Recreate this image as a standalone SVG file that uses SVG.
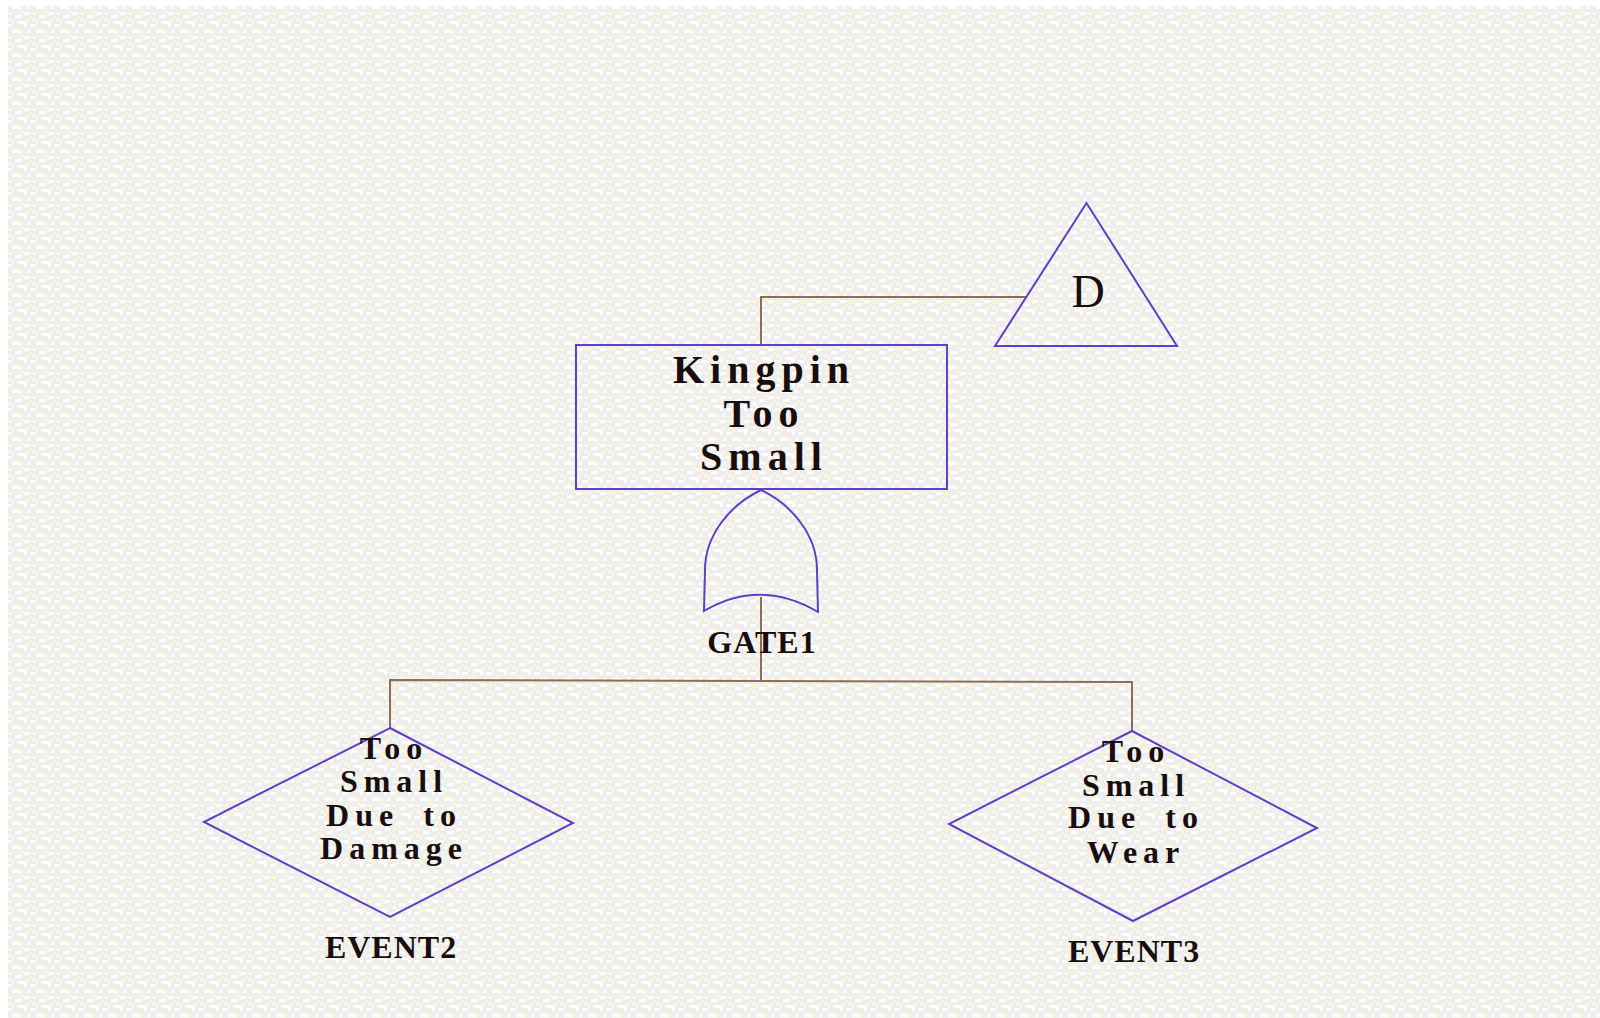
<svg xmlns="http://www.w3.org/2000/svg" width="1600" height="1018" viewBox="0 0 1600 1018">
<defs>
<pattern id="noise" width="24" height="24" patternUnits="userSpaceOnUse">
<rect width="24" height="24" fill="#eeeeee"/>
<rect x="0" y="0" width="3" height="3" fill="#ffffff"/>
<rect x="6" y="0" width="6" height="3" fill="#ffffff"/>
<rect x="15" y="3" width="3" height="3" fill="#fdf9c9"/>
<rect x="3" y="6" width="3" height="3" fill="#ffffff"/>
<rect x="12" y="6" width="9" height="3" fill="#ffffff"/>
<rect x="21" y="9" width="3" height="3" fill="#fdf9c9"/>
<rect x="0" y="12" width="6" height="3" fill="#ffffff"/>
<rect x="9" y="12" width="3" height="3" fill="#fdf9c9"/>
<rect x="15" y="15" width="6" height="3" fill="#ffffff"/>
<rect x="3" y="18" width="3" height="3" fill="#fdf9c9"/>
<rect x="9" y="18" width="3" height="3" fill="#ffffff"/>
<rect x="18" y="21" width="6" height="3" fill="#ffffff"/>
<rect x="0" y="21" width="3" height="3" fill="#ffffff"/>
<rect x="12" y="21" width="3" height="3" fill="#fdf9c9"/>
</pattern>
</defs>
<style>
.shape{fill:none;stroke:#5e3fc6;stroke-width:2}
.conn{fill:none;stroke:#8c6f52;stroke-width:2}
.node{font-family:"Liberation Serif","Times New Roman",serif;fill:#1a0d0d;text-anchor:middle;font-weight:bold}
.big{font-size:40px;letter-spacing:6px}
.mid{font-size:32px;letter-spacing:6px;word-spacing:10px}
.lbl{font-size:32px;letter-spacing:1px}
.dl{font-size:46px;font-weight:normal}
</style>
<rect width="1600" height="1018" fill="#ffffff"/>
<rect x="8" y="6" width="1592" height="1012" fill="url(#noise)"/>
<g id="connectors">
<polyline class="conn" points="761,345 761,297 1026,297"/>
<polyline class="conn" points="761,597 761,680"/>
<polyline class="conn" points="390,728 390,680 1132,682 1132,731"/>
</g>
<g id="top-event">
<rect class="shape" x="576" y="345" width="371" height="144"/>
<text class="node big" x="764" y="383">Kingpin</text>
<text class="node big" x="764" y="427">Too</text>
<text class="node big" x="764" y="470">Small</text>
</g>
<g id="transfer-D">
<polygon class="shape" points="1086.5,203 995,346 1177,346"/>
<text class="node dl" x="1088" y="307">D</text>
</g>
<g id="GATE1">
<path class="shape" d="M761,490 C730,505 705,535 705,570 L704,611 Q760,578 818,612 L817,570 C817,535 792,505 761,490 Z"/>
<text class="node lbl" x="762" y="653">GATE1</text>
</g>
<g id="EVENT2">
<polygon class="shape" points="390,728 573,823 390,917 204,822"/>
<text class="node mid" x="394" y="759">Too</text>
<text class="node mid" x="394" y="792">Small</text>
<text class="node mid" x="394" y="826">Due to</text>
<text class="node mid" x="394" y="859">Damage</text>
<text class="node lbl" x="391" y="958">EVENT2</text>
</g>
<g id="EVENT3">
<polygon class="shape" points="1132,731 1317,828 1133,921 949,824"/>
<text class="node mid" x="1136" y="762">Too</text>
<text class="node mid" x="1136" y="796">Small</text>
<text class="node mid" x="1136" y="828">Due to</text>
<text class="node mid" x="1136" y="863">Wear</text>
<text class="node lbl" x="1134" y="962">EVENT3</text>
</g>
</svg>
